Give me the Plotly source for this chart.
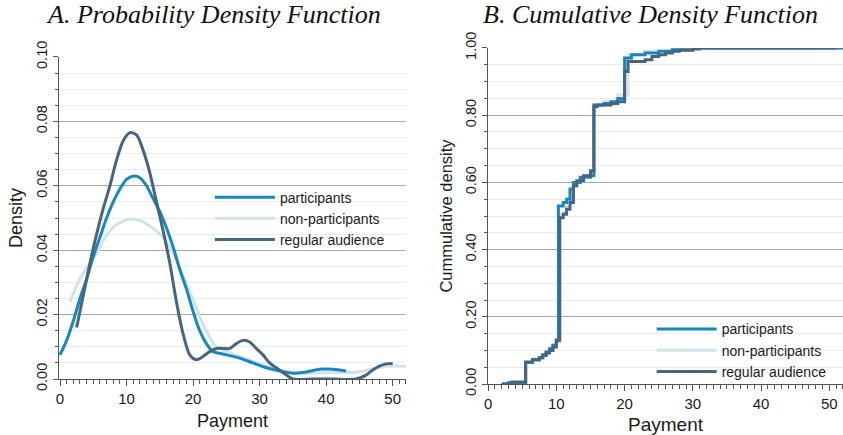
import plotly.graph_objects as go

# ---------------- data ----------------
series_names = ["participants", "non-participants", "regular audience"]
colors = ["#1788bd", "#d3e2ea", "#48657d"]

# PDF (panel A)
pdf_part_x = [0, 1, 2, 3, 4, 5, 6, 7, 8, 9, 10, 11, 12, 13, 14, 15, 16, 17, 18, 19, 20, 21, 22, 23, 24, 25, 27, 29, 31, 33, 35, 37, 39, 41, 43]
pdf_part_y = [0.0075, 0.012, 0.018, 0.025, 0.031, 0.038, 0.044, 0.050, 0.055, 0.059, 0.062, 0.063, 0.0625, 0.060, 0.056, 0.052, 0.047, 0.041, 0.034, 0.028, 0.021, 0.015, 0.011, 0.0085, 0.008, 0.0075, 0.0065, 0.005, 0.0035, 0.0025, 0.0018, 0.0022, 0.003, 0.003, 0.0025]

pdf_non_x = [1.5, 2.5, 3.5, 4.5, 5.5, 6.5, 7.5, 8.5, 9.5, 10.5, 11.5, 12.5, 13.5, 14.5, 15.5, 16.5, 17.5, 18.5, 19.5, 20.5, 21.5, 22.5, 23.5, 25, 27, 29, 31, 33, 35, 37, 40, 43, 45, 47, 49, 52]
pdf_non_y = [0.024, 0.029, 0.033, 0.036, 0.039, 0.043, 0.046, 0.048, 0.049, 0.0497, 0.0495, 0.0488, 0.0475, 0.046, 0.044, 0.041, 0.037, 0.032, 0.027, 0.022, 0.017, 0.013, 0.010, 0.0085, 0.007, 0.0055, 0.004, 0.0028, 0.002, 0.0018, 0.002, 0.002, 0.0022, 0.0032, 0.004, 0.004]

pdf_reg_x = [2.5, 3.5, 4.5, 5.5, 6.5, 7.5, 8.5, 9.5, 10.5, 11.5, 12.5, 13.5, 14.5, 15.5, 16.5, 17.5, 18.5, 19.5, 20.5, 21.5, 22.5, 23.5, 24.5, 25.5, 26.5, 27.5, 28.5, 29.5, 30.5, 31.5, 32.5, 33.5, 35, 38, 41, 44.5, 46, 47, 48, 49, 50]
pdf_reg_y = [0.016, 0.026, 0.036, 0.045, 0.053, 0.060, 0.068, 0.074, 0.0765, 0.0758, 0.071, 0.064, 0.055, 0.046, 0.036, 0.024, 0.014, 0.0075, 0.006, 0.007, 0.0085, 0.0095, 0.0095, 0.0095, 0.011, 0.012, 0.0115, 0.0095, 0.0075, 0.005, 0.0035, 0.002, 0.0, 0.0, 0.0, 0.0, 0.0012, 0.0028, 0.0040, 0.0047, 0.0048]

# CDF (panel B)
cdf_part_x = [2, 3, 3.5, 5.5, 6.5, 7.5, 8, 8.5, 9, 9.5, 10, 10.3, 11, 11.5, 12, 12.5, 13.5, 15, 15.5, 17, 18, 19, 20, 21, 23, 25, 27, 30, 40, 52]
cdf_part_y = [0.0, 0.003, 0.005, 0.065, 0.072, 0.078, 0.087, 0.095, 0.105, 0.115, 0.13, 0.53, 0.54, 0.55, 0.58, 0.60, 0.615, 0.62, 0.83, 0.835, 0.84, 0.85, 0.97, 0.98, 0.985, 0.99, 0.995, 1.0, 1.0, 1.0]

cdf_non_x = [2, 3, 3.5, 5.5, 6.5, 7.5, 8, 8.5, 9, 9.5, 10, 10.5, 11, 11.5, 12, 12.5, 13, 14, 15, 15.5, 17, 19, 20.5, 23, 27, 30, 40, 52]
cdf_non_y = [0.0, 0.004, 0.006, 0.067, 0.074, 0.08, 0.088, 0.096, 0.105, 0.115, 0.125, 0.50, 0.51, 0.525, 0.55, 0.59, 0.605, 0.62, 0.635, 0.83, 0.84, 0.86, 0.98, 0.99, 0.995, 1.0, 1.0, 1.0]

cdf_reg_x = [2, 3, 3.5, 5.5, 6.5, 7.5, 8, 8.5, 9, 9.5, 10, 10.5, 11, 11.5, 12, 12.5, 13, 14, 15, 15.5, 16, 18, 19, 20, 20.5, 23, 24, 25, 26, 27, 28, 30, 31, 41, 51]
cdf_reg_y = [0.0, 0.003, 0.005, 0.065, 0.072, 0.078, 0.085, 0.092, 0.10, 0.11, 0.13, 0.495, 0.505, 0.52, 0.54, 0.59, 0.605, 0.62, 0.635, 0.825, 0.83, 0.835, 0.84, 0.93, 0.96, 0.965, 0.975, 0.98, 0.985, 0.99, 0.993, 0.997, 1.0, 1.0, 1.0]

pdf_data = [(pdf_part_x, pdf_part_y), (pdf_non_x, pdf_non_y), (pdf_reg_x, pdf_reg_y)]
cdf_data = [(cdf_part_x, cdf_part_y), (cdf_non_x, cdf_non_y), (cdf_reg_x, cdf_reg_y)]

# ---------------- figure ----------------
fig = go.Figure()
draw_order = [1, 0, 2]  # light under blue under dark
for i in draw_order:
    x, y = pdf_data[i]
    fig.add_trace(go.Scatter(x=x, y=y, mode="lines", name=series_names[i],
                             line=dict(color=colors[i], width=3, shape="spline", smoothing=0.8),
                             xaxis="x", yaxis="y", legend="legend", legendrank=i + 1))
for i in draw_order:
    x, y = cdf_data[i]
    fig.add_trace(go.Scatter(x=x, y=y, mode="lines", name=series_names[i],
                             line=dict(color=colors[i], width=3, shape="hv"),
                             xaxis="x2", yaxis="y2", legend="legend2", legendrank=i + 1))

font_sans = "Liberation Sans, Arial, sans-serif"
axis_common = dict(
    showline=True, linecolor="#555555", linewidth=1,
    ticks="outside", ticklen=6, tickcolor="#555555",
    tickfont=dict(family=font_sans, size=15, color="#1a1a1a"),
    zeroline=False, automargin=False,
)
yfont = dict(family=font_sans, size=14.5, color="#1a1a1a")

fig.update_layout(
    width=843, height=435,
    margin=dict(l=0, r=0, t=0, b=0, autoexpand=False),
    paper_bgcolor="white", plot_bgcolor="white",
    font=dict(family=font_sans, color="#1a1a1a"),
    xaxis=dict(domain=[0.070, 0.4816], range=[-0.15, 52], dtick=10, tick0=0,
               showgrid=False, anchor="y",
               minor=dict(dtick=1, ticks="outside", ticklen=4, tickcolor="#555555", showgrid=False),
               title=dict(text="Payment", font=dict(size=18), standoff=8),
               **axis_common),
    yaxis=dict(domain=[0.1287, 0.869], range=[0, 0.1], dtick=0.02, tickformat=".2f",
               tickangle=-90, anchor="x",
               showgrid=True, gridcolor="#a8a8a8", gridwidth=1,
               minor=dict(dtick=0.005, ticks="outside", ticklen=3, tickcolor="#555555",
                          showgrid=True, gridcolor="#ececec", gridwidth=1),
               title=dict(text="Density", font=dict(size=18), standoff=6),
               **{**axis_common, "ticklen": 5, "tickfont": yfont}),
    xaxis2=dict(domain=[0.579, 1.0], range=[0, 52], dtick=10, tick0=0,
                showgrid=False, anchor="y2",
                minor=dict(dtick=1, ticks="outside", ticklen=4, tickcolor="#555555", showgrid=False),
                title=dict(text="Payment", font=dict(size=19), standoff=8),
                **axis_common),
    yaxis2=dict(domain=[0.1172, 0.8897], range=[0, 1.0], dtick=0.2, tickformat=".2f",
                tickangle=-90, anchor="x2",
                showgrid=True, gridcolor="#a8a8a8", gridwidth=1,
                minor=dict(dtick=0.05, ticks="outside", ticklen=3, tickcolor="#555555",
                           showgrid=True, gridcolor="#ececec", gridwidth=1),
                title=dict(text="Cummulative density", font=dict(size=16.5), standoff=6),
                **{**axis_common, "ticklen": 5, "tickfont": yfont}),
    legend=dict(x=0.249, y=0.5826, xanchor="left", yanchor="top", bgcolor="rgba(0,0,0,0)",
                font=dict(family=font_sans, size=14, color="#1a1a1a"), itemwidth=60,
                tracegroupgap=0),
    legend2=dict(x=0.773, y=0.2795, xanchor="left", yanchor="top", bgcolor="rgba(0,0,0,0)",
                 font=dict(family=font_sans, size=14, color="#1a1a1a"), itemwidth=60,
                 tracegroupgap=0),
    showlegend=True,
    annotations=[
        dict(text="<i>A. Probability Density Function</i>", xref="paper", yref="paper",
             x=213 / 843, y=1 - 15 / 435, xanchor="center", yanchor="middle", showarrow=False,
             font=dict(family="Liberation Serif, DejaVu Serif, serif", size=26, color="#111")),
        dict(text="<i>B. Cumulative Density Function</i>", xref="paper", yref="paper",
             x=650 / 843, y=1 - 15 / 435, xanchor="center", yanchor="middle", showarrow=False,
             font=dict(family="Liberation Serif, DejaVu Serif, serif", size=26, color="#111")),
    ],
)

fig.write_html("out.html")
